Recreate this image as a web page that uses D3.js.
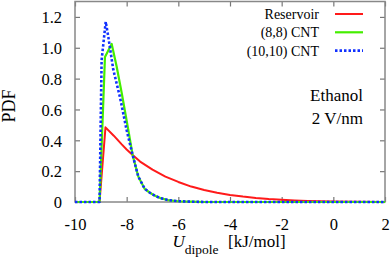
<!DOCTYPE html>
<html>
<head>
<meta charset="utf-8">
<script src="https://cdn.jsdelivr.net/npm/d3@7"></script>
<style>
  body { margin: 0; background: #fff; }
  text { font-family: "Liberation Serif", "DejaVu Serif", serif; fill: #000; }
</style>
</head>
<body>
<svg id="chart" width="392" height="265"></svg>
<script>
// data
var uRes   = [-10, -9.05, -8.82, -8.5, -8.2, -8.0, -7.77, -7.48, -7.0, -6.5, -6.0, -5.5, -5.0, -4.5, -4.0, -3.5, -3.0, -2.5, -2.0, -1.5, -1.0, -0.5, 0, 1, 2];
var pdfRes = [0, 0, 0.484, 0.43, 0.375, 0.34, 0.305, 0.262, 0.21, 0.165, 0.13, 0.10, 0.078, 0.06, 0.046, 0.035, 0.026, 0.019, 0.014, 0.01, 0.007, 0.005, 0.003, 0.001, 0];

var uCnt8   = [-10, -9.05, -8.84, -8.58, -8.39, -8.19, -7.94, -7.77, -7.55, -7.3, -7.1, -6.9, -6.7, -6.4, -6.0, -5.5, -5.0, 2];
var pdfCnt8 = [0, 0, 0.94, 1.025, 0.88, 0.705, 0.47, 0.305, 0.165, 0.085, 0.06, 0.04, 0.026, 0.012, 0.005, 0.002, 0, 0];

var uCnt10   = [-10, -9.05, -8.97, -8.81, -8.71, -8.52, -8.26, -8.0, -7.77, -7.55, -7.3, -7.1, -6.9, -6.7, -6.4, -6.0, -5.5, -5.0, 2];
var pdfCnt10 = [0, 0, 0.92, 1.169, 1.07, 0.86, 0.68, 0.465, 0.305, 0.165, 0.085, 0.06, 0.04, 0.026, 0.012, 0.005, 0.002, 0, 0];

var seriesNames  = ["Reservoir", "(8,8) CNT", "(10,10) CNT"];
var seriesColors = ["#ff1a1a", "#44ee00", "#1030ff"];

var xTicks = [-10, -8, -6, -4, -2, 0, 2];
var yTicks = [0, 0.2, 0.4, 0.6, 0.8, 1.0, 1.2];

// plot box
var box = {left: 75, right: 385, top: 1.5, bottom: 202};

var svg = d3.select("#chart");

var x = d3.scaleLinear().domain([-10, 2]).range([box.left, box.right]);
var y = d3.scaleLinear().domain([0, 1.3]).range([box.bottom, box.top]);

// axes with inward ticks
function styleAxis(g) {
  g.attr("font-family", null);
  g.select(".domain").remove();
  g.selectAll("line").attr("stroke", "#777").attr("stroke-width", 1.2);
}

svg.append("g")
    .attr("transform", "translate(0," + box.bottom + ")")
    .call(d3.axisBottom(x).tickValues(xTicks).tickSizeInner(-5).tickSizeOuter(0)
          .tickFormat(function(d) { return d < 0 ? "-" + Math.abs(d) : d; }))
    .call(styleAxis)
    .selectAll("text")
    .attr("y", 28).attr("dy", 0)
    .style("font-size", "16.5px");

svg.append("g")
    .attr("transform", "translate(0," + box.top + ")")
    .call(d3.axisTop(x).tickValues(xTicks).tickSizeInner(-5).tickSizeOuter(0).tickFormat(""))
    .call(styleAxis);

svg.append("g")
    .attr("transform", "translate(" + box.left + ",0)")
    .call(d3.axisLeft(y).tickValues(yTicks).tickSizeInner(-5).tickSizeOuter(0)
          .tickFormat(function(d) { return d === 0 ? "0" : d3.format(".1f")(d); }))
    .call(styleAxis)
    .selectAll("text")
    .attr("x", -13).attr("dy", "0.35em")
    .style("font-size", "16.5px");

svg.append("g")
    .attr("transform", "translate(" + box.right + ",0)")
    .call(d3.axisRight(y).tickValues(yTicks).tickSizeInner(-5).tickSizeOuter(0).tickFormat(""))
    .call(styleAxis);

// frame
svg.append("rect")
    .attr("x", box.left).attr("y", box.top)
    .attr("width", box.right - box.left).attr("height", box.bottom - box.top)
    .attr("fill", "none").attr("stroke", "#888").attr("stroke-width", 1.5);

// curves
var line = d3.line()
    .x(function(d) { return x(d[0]); })
    .y(function(d) { return y(d[1]); });

var series = [
  { xs: uRes,   ys: pdfRes,   w: 2,   dash: null },
  { xs: uCnt8,  ys: pdfCnt8,  w: 2.2, dash: null },
  { xs: uCnt10, ys: pdfCnt10, w: 2.6, dash: "2.5,2" }
];

series.forEach(function(s, i) {
  svg.append("path")
      .datum(d3.zip(s.xs, s.ys))
      .attr("fill", "none")
      .attr("stroke", seriesColors[i])
      .attr("stroke-width", s.w)
      .attr("stroke-dasharray", s.dash)
      .attr("stroke-linejoin", "round")
      .attr("d", line);
});

// legend
seriesNames.forEach(function(name, i) {
  var cy = 14 + i * 18.3;
  svg.append("text")
      .attr("x", 319).attr("y", cy + 5)
      .attr("text-anchor", "end")
      .style("font-size", "14px")
      .text(name);
  svg.append("line")
      .attr("x1", 335).attr("x2", 363)
      .attr("y1", cy).attr("y2", cy)
      .attr("stroke", seriesColors[i])
      .attr("stroke-width", series[i].w)
      .attr("stroke-dasharray", series[i].dash);
});

// annotation
svg.append("text").attr("x", 363).attr("y", 101).attr("text-anchor", "end")
    .style("font-size", "17px").text("Ethanol");
svg.append("text").attr("x", 363).attr("y", 124).attr("text-anchor", "end")
    .style("font-size", "17px").text("2 V/nm");

// axis titles
svg.append("text")
    .attr("transform", "translate(15,106) rotate(-90)")
    .attr("text-anchor", "middle")
    .style("font-size", "18px")
    .text("PDF");

var xl = svg.append("text").attr("x", 172.5).attr("y", 247).style("font-size", "17px");
xl.append("tspan").style("font-style", "italic").text("U");
xl.append("tspan").attr("dy", 7).style("font-size", "13.5px").text("dipole");
xl.append("tspan").attr("x", 228).attr("y", 247).text("[kJ/mol]");
</script>
</body>
</html>
